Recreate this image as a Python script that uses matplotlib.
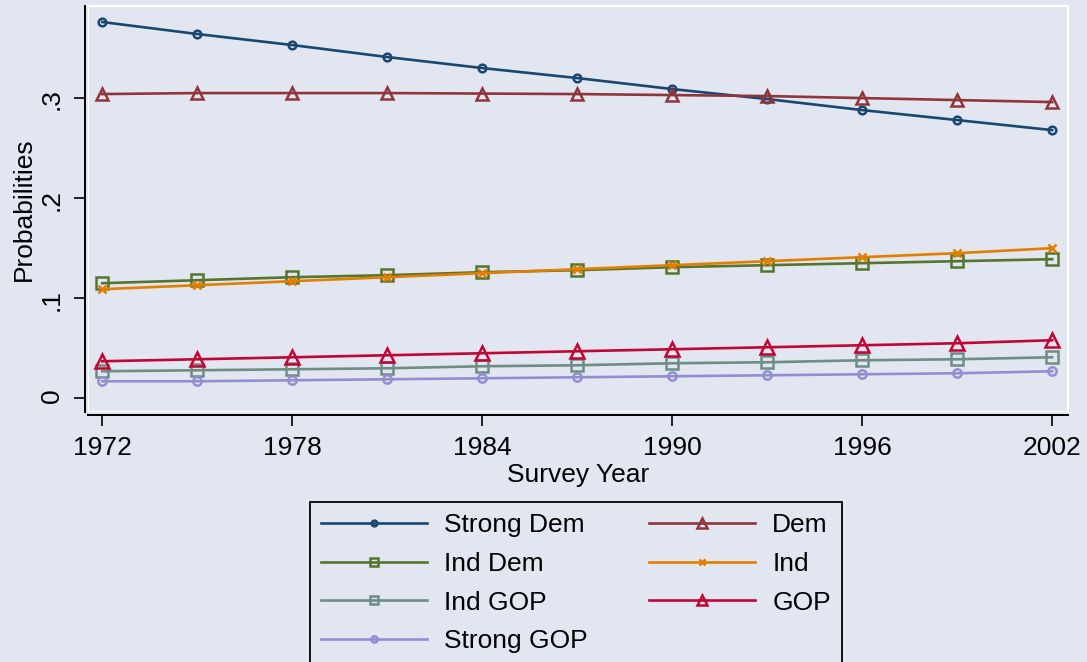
import matplotlib
matplotlib.use("Agg")
import matplotlib.pyplot as plt
from matplotlib.patches import Rectangle

plt.rcParams['font.family'] = ['Liberation Sans', 'DejaVu Sans']

years = [1972, 1975, 1978, 1981, 1984, 1987, 1990, 1993, 1996, 1999, 2002]
strong_dem = [0.376, 0.364, 0.353, 0.341, 0.330, 0.320, 0.309, 0.299, 0.288, 0.278, 0.268]
dem = [0.304, 0.305, 0.305, 0.305, 0.3045, 0.304, 0.303, 0.302, 0.300, 0.298, 0.296]
ind_dem = [0.115, 0.118, 0.121, 0.123, 0.126, 0.128, 0.131, 0.133, 0.135, 0.137, 0.139]
ind = [0.109, 0.113, 0.117, 0.121, 0.125, 0.129, 0.133, 0.137, 0.141, 0.145, 0.150]
ind_gop = [0.027, 0.028, 0.029, 0.030, 0.032, 0.033, 0.035, 0.036, 0.038, 0.039, 0.041]
gop = [0.037, 0.039, 0.041, 0.043, 0.045, 0.047, 0.049, 0.051, 0.053, 0.055, 0.058]
strong_gop = [0.017, 0.017, 0.018, 0.019, 0.020, 0.021, 0.022, 0.023, 0.024, 0.025, 0.027]

x_ticks = [1972, 1978, 1984, 1990, 1996, 2002]
y_ticks = [0, 0.1, 0.2, 0.3]
y_ticklabels = ['0', '.1', '.2', '.3']

bg = '#E1E6F0'
W, H = 1087, 662
fig = plt.figure(figsize=(W / 100, H / 100), dpi=100, facecolor=bg)
ax = fig.add_axes([88 / W, 1 - 412 / H, (1068 - 88) / W, (412 - 6) / H])
ax.set_facecolor(bg)

# series: label, data, colour, marker, size
series = [
    ("Strong Dem", strong_dem, '#1A476F', 'o', 5.5),
    ("Dem", dem, '#90353B', '^', 9),
    ("Ind Dem", ind_dem, '#55752F', 's', 8),
    ("Ind", ind, '#E37E00', 'x', 6),
    ("Ind GOP", ind_gop, '#6E8E84', 's', 8),
    ("GOP", gop, '#C10534', '^', 10),
    ("Strong GOP", strong_gop, '#938DD2', 'o', 6),
]

handles = {}
for label, vals, col, mk, ms in series:
    h, = ax.plot(years, vals, color=col, lw=1.9, marker=mk, markersize=ms,
                 markerfacecolor='none', markeredgecolor=col, markeredgewidth=1.8,
                 label=label, clip_on=False)
    handles[label] = h

ax.set_xlim(1971.55, 2002.5)
ax.set_ylim(-0.0137, 0.392)

ax.set_xticks(x_ticks)
ax.set_yticks(y_ticks)
ax.set_yticklabels(y_ticklabels)
ax.tick_params(axis='both', labelsize=19, length=8, width=1.2, direction='out', pad=7)
ax.tick_params(axis='y', labelrotation=90)
for t in ax.get_yticklabels():
    t.set_va('center')

for s in ['top', 'right']:
    ax.spines[s].set_color('white')
    ax.spines[s].set_linewidth(1.5)
for s in ['left', 'bottom']:
    ax.spines[s].set_position(('outward', 2.5))
    ax.spines[s].set_linewidth(1.4)
ax.add_patch(Rectangle((0, 0), 1, 1, transform=ax.transAxes, fill=False,
                       edgecolor='white', lw=1.5, zorder=0.5))

ax.set_ylabel("Probabilities", fontsize=19, labelpad=3)
ax.set_xlabel("Survey Year", fontsize=19, labelpad=2)

order = ["Strong Dem", "Ind Dem", "Ind GOP", "Strong GOP", "Dem", "Ind", "GOP"]
leg = fig.legend([handles[k] for k in order], order, ncol=2, loc='upper left',
                 bbox_to_anchor=(310 / W, 1 - 502 / H), fontsize=19, numpoints=1,
                 handlelength=4.0, handletextpad=0.65, columnspacing=2.35,
                 labelspacing=0.56, borderpad=0.42, borderaxespad=0,
                 frameon=True, fancybox=False, facecolor=bg, edgecolor='black',
                 framealpha=1)
leg.get_frame().set_linewidth(1.3)
for lh in leg.legend_handles:
    lh.set_markersize(lh.get_markersize() * 0.75)

fig.savefig("out.png", dpi=100, facecolor=bg)
